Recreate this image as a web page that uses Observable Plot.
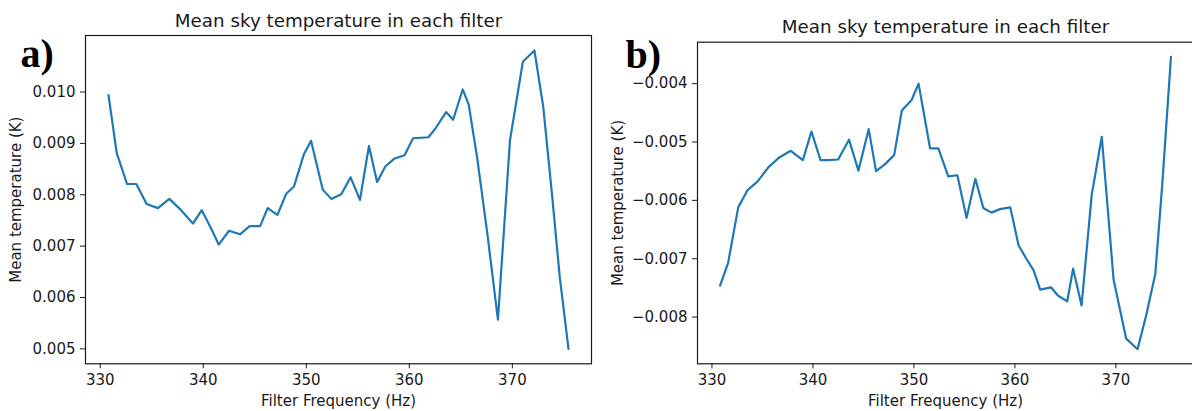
<!DOCTYPE html>
<html>
<head>
<meta charset="utf-8">
<script src="https://cdn.jsdelivr.net/npm/d3@7"></script>
<script src="https://cdn.jsdelivr.net/npm/@observablehq/plot@0.6"></script>
<style>
html, body { margin: 0; padding: 0; background: #fff; overflow: hidden; }
#wrap { position: relative; width: 1192px; height: 411px; overflow: hidden; background: #fff; }
.panel { position: absolute; top: 0; }
</style>
</head>
<body>
<div id="wrap"></div>
<script>
// Filter frequencies (Hz), shared by both panels
const frequency = [
  330.8, 331.6, 332.6, 333.5, 334.5, 335.6, 336.7, 337.8, 339.0, 339.85,
  340.75, 341.5, 342.5, 343.57, 344.5, 345.52, 346.25, 347.2, 348.05, 348.8,
  349.77, 350.46, 351.6, 352.42, 353.4, 354.3, 355.21, 356.08, 356.87, 357.67,
  358.52, 359.54, 360.36, 361.13, 361.85, 362.5, 363.57, 364.25, 365.18, 365.76,
  366.6, 367.6, 368.6, 369.77, 371.02, 372.14, 373.0, 373.9, 374.6, 375.45
];

// Panel a) mean sky temperature (K)
const tempA = [
  0.00994, 0.00881, 0.00821, 0.00821, 0.00782, 0.00774, 0.00792, 0.00771, 0.00744, 0.00770,
  0.00735, 0.00703, 0.00730, 0.00723, 0.00739, 0.00739, 0.00774, 0.00761, 0.00802, 0.00816,
  0.00879, 0.00905, 0.00810, 0.00792, 0.00801, 0.00834, 0.00790, 0.00895, 0.00825, 0.00855,
  0.00870, 0.00877, 0.00910, 0.00911, 0.00912, 0.00928, 0.00961, 0.00946, 0.01005, 0.00976,
  0.00870, 0.00720, 0.00557, 0.00906, 0.01059, 0.01081, 0.00971, 0.00790, 0.00640, 0.00500
];

// Panel b) mean sky temperature (K)
const tempB = [
  -0.00746, -0.00707, -0.00612, -0.00583, -0.00568, -0.00543, -0.00526, -0.00515, -0.00531, -0.00482,
  -0.00531, -0.00531, -0.00530, -0.00496, -0.00549, -0.00478, -0.00550, -0.00537, -0.00522, -0.00446,
  -0.00428, -0.00400, -0.00511, -0.00511, -0.00559, -0.00557, -0.00630, -0.00563, -0.00613, -0.00621,
  -0.00615, -0.00612, -0.00677, -0.00700, -0.00720, -0.00753, -0.00749, -0.00763, -0.00773, -0.00717,
  -0.00780, -0.00591, -0.00491, -0.00736, -0.00837, -0.00855, -0.00797, -0.00726, -0.00570, -0.00354
];

const xTicks = [330, 340, 350, 360, 370];
const yTicksA = [0.005, 0.006, 0.007, 0.008, 0.009, 0.010];
const yTicksB = [-0.008, -0.007, -0.006, -0.005, -0.004];
const panelTags = ["a)", "b)"];
const titleText = "Mean sky temperature in each filter";
const xLabelText = "Filter Frequency (Hz)";
const yLabelText = "Mean temperature (K)";

// matplotlib-style 5% autoscale margins
function padded(ext) {
  const m = (ext[1] - ext[0]) * 0.05;
  return [ext[0] - m, ext[1] + m];
}

function makePanel(cfg) {
  const data = frequency.map((f, i) => ({f, t: cfg.temps[i]}));
  return Plot.plot({
    width: 600,
    height: 411,
    marginLeft: cfg.marginLeft,
    marginRight: cfg.marginRight,
    marginTop: cfg.marginTop,
    marginBottom: 411 - 363.3,
    style: {fontFamily: "DejaVu Sans", fontSize: "15px", color: "#1a1a1a", background: "white", overflow: "visible"},
    x: {domain: padded(d3.extent(frequency))},
    y: {domain: padded(d3.extent(cfg.temps))},
    marks: [
      Plot.line(data, {x: "f", y: "t", stroke: "#1f77b4", strokeWidth: 2.2}),
      Plot.frame({stroke: "#1a1a1a", strokeWidth: 1.2}),
      Plot.axisX({ticks: xTicks, tickFormat: d3.format("d"), tickSize: 5, tickPadding: 6, label: null}),
      Plot.axisY({ticks: cfg.yTicks, tickFormat: d3.format(".3f"), tickSize: 5, tickPadding: 5, label: null}),
      Plot.text([titleText], {frameAnchor: "top", textAnchor: "middle", lineAnchor: "middle",
        dy: cfg.titleDy, fontSize: 18.3, text: d => d}),
      Plot.text([xLabelText], {frameAnchor: "bottom", textAnchor: "middle", lineAnchor: "middle",
        dy: 37.5, text: d => d}),
      Plot.text([yLabelText], {frameAnchor: "left", textAnchor: "middle", lineAnchor: "middle",
        dx: cfg.yLabelDx, rotate: -90, text: d => d}),
      Plot.text([cfg.tag], {frameAnchor: "top-left", textAnchor: "start", lineAnchor: "top",
        dx: cfg.tagDx, dy: cfg.tagDy, fontFamily: "Liberation Serif", fontWeight: "bold",
        fontSize: 40, fill: "black", text: d => d})
    ]
  });
}

const wrap = document.getElementById("wrap");

const left = makePanel({
  temps: tempA, yTicks: yTicksA, tag: panelTags[0],
  marginLeft: 85, marginRight: 9, marginTop: 35,
  titleDy: -14.5, yLabelDx: -69, tagDx: -65, tagDy: 2.6
});
left.classList.add("panel");
left.style.left = "0px";
wrap.appendChild(left);

const right = makePanel({
  temps: tempB, yTicks: yTicksB, tag: panelTags[1],
  marginLeft: 97, marginRight: 7, marginTop: 41.7,
  titleDy: -15.5, yLabelDx: -79, tagDx: -72, tagDy: -3.1
});
right.classList.add("panel");
right.style.left = "600px";
wrap.appendChild(right);
</script>
</body>
</html>
